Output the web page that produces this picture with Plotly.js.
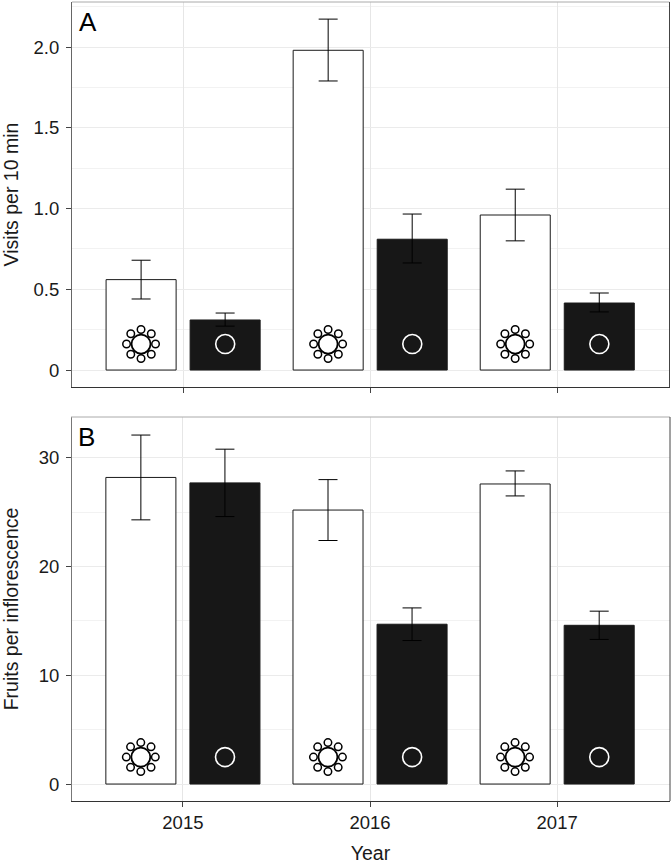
<!DOCTYPE html>
<html><head><meta charset="utf-8">
<script src="https://cdn.plot.ly/plotly-3.0.1.min.js"></script>
<style>html,body{margin:0;padding:0;background:#fff}</style></head>
<body><div id="chart" style="width:672px;height:865px"></div>
<script>
const years = [2015, 2016, 2017];
const tickLabels = ['2015', '2016', '2017'];
const visitsWhite = [0.56, 1.98, 0.96];
const visitsWhiteUp = [0.12, 0.193, 0.16];
const visitsWhiteDown = [0.12, 0.19, 0.16];
const visitsBlack = [0.31, 0.81, 0.415];
const visitsBlackUp = [0.043, 0.156, 0.062];
const visitsBlackDown = [0.038, 0.147, 0.055];
const fruitsWhite = [28.2, 25.2, 27.6];
const fruitsWhiteUp = [3.9, 2.8, 1.2];
const fruitsWhiteDown = [3.9, 2.8, 1.1];
const fruitsBlack = [27.7, 14.7, 14.6];
const fruitsBlackUp = [3.1, 1.5, 1.3];
const fruitsBlackDown = [3.1, 1.5, 1.3];
const visitsIconLevel = 0.161;
const fruitsIconLevel = 2.48;

const W = 672, H = 865;
const plotLA = 72, plotRA = 669.5, plotLB = 71, plotRB = 670;
const aTop = 2, aBot = 387, bTop = 417, bBot = 801;
const xRangeA = [2014.406, 2017.6];
const xRangeB = [2014.402, 2017.603];
const yRangeA = [-0.105, 2.279];
const yRangeB = [-1.56, 33.76];
const barOffset = 0.225;
const pxXA = (plotRA - plotLA) / (xRangeA[1] - xRangeA[0]);
const pxXB = (plotRB - plotLB) / (xRangeB[1] - xRangeB[0]);
const pxA = (aBot - aTop) / (yRangeA[1] - yRangeA[0]);
const pxB = (bBot - bTop) / (yRangeB[1] - yRangeB[0]);
const BAR_WHITE = '#ffffff', BAR_BLACK = '#171717', INK = '#000000';

function bars(name, vals, up, down, fill, xa, ya) {
  return {type: 'bar', name, x: years, y: vals, xaxis: xa, yaxis: ya,
    marker: {color: fill, line: {color: '#1a1a1a', width: 1}},
    error_y: {type: 'data', symmetric: false, array: up, arrayminus: down,
      color: INK, thickness: 1, width: 9.5}};
}
function flowers(level, pxX, pxY, xa, ya) {
  const px = [], py = [];
  years.forEach(yr => {
    for (let k = 0; k < 8; k++) {
      const a = k * Math.PI / 4;
      px.push(yr - barOffset + 14.5 * Math.cos(a) / pxX);
      py.push(level + 14.5 * Math.sin(a) / pxY);
    }
  });
  const petals = {type: 'scatter', mode: 'markers', x: px, y: py, xaxis: xa, yaxis: ya,
    marker: {size: 7.5, color: '#fff', line: {color: '#000', width: 1.5}}, hoverinfo: 'skip'};
  const disk = {type: 'scatter', mode: 'markers', x: years.map(y => y - barOffset),
    y: years.map(() => level), xaxis: xa, yaxis: ya,
    marker: {size: 19, color: '#fff', line: {color: '#000', width: 1.8}}, hoverinfo: 'skip'};
  const ring = {type: 'scatter', mode: 'markers', x: years.map(y => y + barOffset),
    y: years.map(() => level), xaxis: xa, yaxis: ya,
    marker: {size: 19, color: BAR_BLACK, line: {color: '#fff', width: 1.6}}, hoverinfo: 'skip'};
  return [petals, disk, ring];
}
const data = [
  bars('Flowers A', visitsWhite, visitsWhiteUp, visitsWhiteDown, BAR_WHITE, 'x', 'y'),
  bars('Single A', visitsBlack, visitsBlackUp, visitsBlackDown, BAR_BLACK, 'x', 'y'),
  bars('Flowers B', fruitsWhite, fruitsWhiteUp, fruitsWhiteDown, BAR_WHITE, 'x2', 'y2'),
  bars('Single B', fruitsBlack, fruitsBlackUp, fruitsBlackDown, BAR_BLACK, 'x2', 'y2'),
  ...flowers(visitsIconLevel, pxXA, pxA, 'x', 'y'),
  ...flowers(fruitsIconLevel, pxXB, pxB, 'x2', 'y2')
];
const dom = (a, b) => [1 - b / H, 1 - a / H];
const xBase = {tickvals: years, ticktext: tickLabels, ticks: 'outside', ticklen: 5,
  tickcolor: '#444', tickwidth: 1, showgrid: true, gridcolor: '#e6e6e6', gridwidth: 1, zeroline: false,
  showline: true, linecolor: '#333', linewidth: 1,
  tickfont: {size: 18.5, color: '#1a1a1a'}};
function yBase(range, tv, tt, minor, d, titleText, lineColor, standoff) {
  return {range, tickvals: tv, ticktext: tt, ticks: 'outside', ticklen: 5, tickcolor: '#444', tickwidth: 1,
    showgrid: true, gridcolor: '#ebebeb', gridwidth: 1, zeroline: false,
    showline: true, linecolor: lineColor, linewidth: 1, domain: d,
    minor: {tickvals: minor, showgrid: true, gridcolor: '#f2f2f2', gridwidth: 1, ticks: ''},
    tickfont: {size: 18.5, color: '#1a1a1a'}, ticklabelstandoff: 3,
    title: {text: titleText, font: {size: 19.5, color: '#1a1a1a'}, standoff}};
}
const layout = {
  width: W, height: H, margin: {l: 0, r: 0, t: 0, b: 0}, autosize: false,
  paper_bgcolor: '#fff', plot_bgcolor: '#fff', showlegend: false,
  font: {family: '"Liberation Sans", Arial, sans-serif', color: '#1a1a1a'},
  barmode: 'group', bargap: 0.1016, bargroupgap: 0.1667,
  xaxis: {...xBase, range: xRangeA, domain: [plotLA / W, plotRA / W], anchor: 'y', showticklabels: false},
  yaxis: yBase(yRangeA, [0, 0.5, 1, 1.5, 2], ['0', '0.5', '1.0', '1.5', '2.0'],
    [0.25, 0.75, 1.25, 1.75, 2.25], dom(aTop, aBot), 'Visits per 10 min', '#666', 10),
  xaxis2: {...xBase, range: xRangeB, domain: [plotLB / W, plotRB / W], anchor: 'y2',
    title: {text: 'Year', font: {size: 19.5, color: '#1a1a1a'}, standoff: 14}},
  yaxis2: yBase(yRangeB, [0, 10, 20, 30], ['0', '10', '20', '30'],
    [5, 15, 25], dom(bTop, bBot), 'Fruits per inflorescence', '#777', 15),
  shapes: [
    {type: 'line', xref: 'x domain', yref: 'y domain', x0: 0, x1: 1, y0: 1, y1: 1, line: {color: '#aaa', width: 1}},
    {type: 'line', xref: 'x domain', yref: 'y domain', x0: 1, x1: 1, y0: 0, y1: 1, line: {color: '#444', width: 1}},
    {type: 'line', xref: 'x2 domain', yref: 'y2 domain', x0: 0, x1: 1, y0: 1, y1: 1, line: {color: '#aaa', width: 1}},
    {type: 'line', xref: 'x2 domain', yref: 'y2 domain', x0: 1, x1: 1, y0: 0, y1: 1, line: {color: '#444', width: 1}}
  ],
  annotations: [
    {text: 'A', xref: 'x domain', yref: 'y domain', x: 0.008, y: 0.993, xanchor: 'left', yanchor: 'top', showarrow: false, font: {size: 26, color: '#000'}},
    {text: 'B', xref: 'x2 domain', yref: 'y2 domain', x: 0.008, y: 0.993, xanchor: 'left', yanchor: 'top', showarrow: false, font: {size: 26, color: '#000'}}
  ]
};
Plotly.newPlot('chart', data, layout, {displayModeBar: false, staticPlot: true});
</script></body></html>
